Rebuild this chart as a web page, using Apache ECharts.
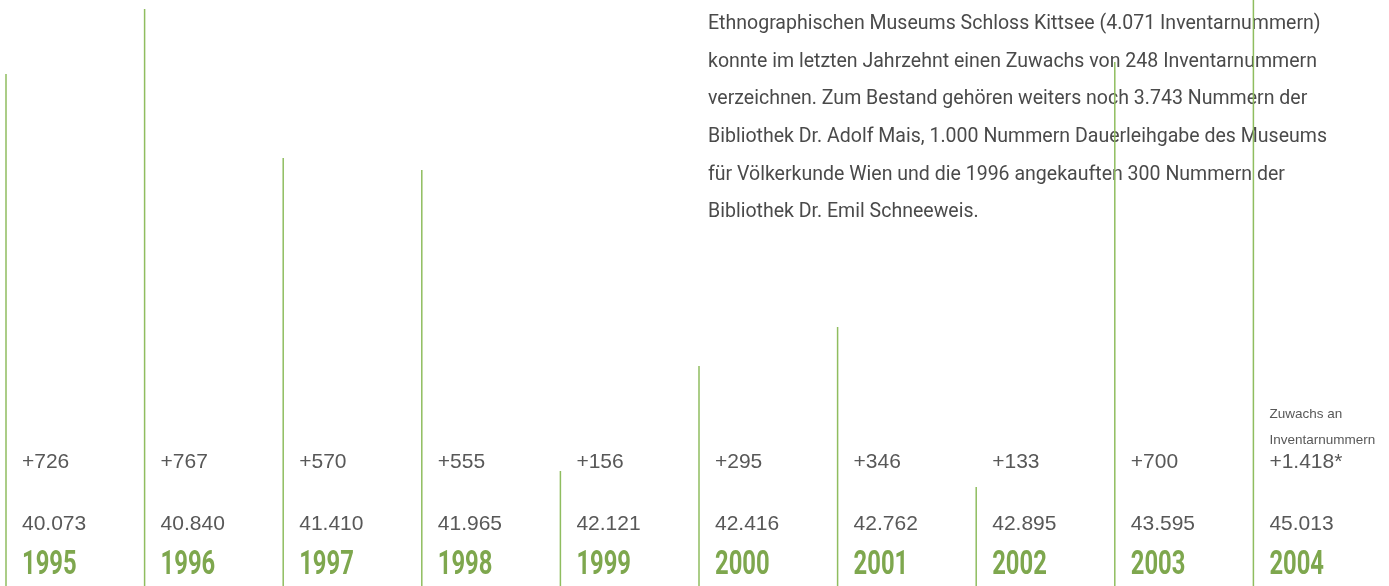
<!DOCTYPE html>
<html><head><meta charset="utf-8">
<script src="https://cdn.jsdelivr.net/npm/echarts@6/dist/echarts.min.js"></script>
<style>html,body{margin:0;padding:0;background:#fff}#c{width:1389px;height:586px}</style>
</head><body><div id="c"></div>
<script>
const years = ['1995','1996','1997','1998','1999','2000','2001','2002','2003','2004'];
const increments = ['+726','+767','+570','+555','+156','+295','+346','+133','+700','+1.418*'];
const totals = ['40.073','40.840','41.410','41.965','42.121','42.416','42.762','42.895','43.595','45.013'];
const stemHeights = [512,577,428,416,115,220,259,99,524,586];
const incrementNote = ['Zuwachs an','Inventarnummern'];
const paragraph = [
  'Ethnographischen Museums Schloss Kittsee (4.071 Inventarnummern)',
  'konnte im letzten Jahrzehnt einen Zuwachs von 248 Inventarnummern',
  'verzeichnen. Zum Bestand gehören weiters noch 3.743 Nummern der',
  'Bibliothek Dr. Adolf Mais, 1.000 Nummern Dauerleihgabe des Museums',
  'für Völkerkunde Wien und die 1996 angekauften 300 Nummern der',
  'Bibliothek Dr. Emil Schneeweis.'
];

const chart = echarts.init(document.getElementById('c'), null, {renderer:'canvas'});
const numFont = '21px "Liberation Sans", Arial, sans-serif';
const option = {
  animation:false,
  backgroundColor:'#ffffff',
  grid:{left:6, top:0, bottom:0, width:1247.4},
  xAxis:{type:'value', min:0, max:9, show:false},
  yAxis:{type:'value', min:0, max:586, show:false},
  graphic: paragraph.map((t,k)=>({
    type:'text', x:708, y:24 + k*37.6, z:1, scaleX:0.93,
    style:{text:t, font:'21px Roboto, sans-serif', fill:'#4a4a4a', verticalAlign:'middle'}
  })),
  series:[{
    type:'custom', z:5,
    data: stemHeights.map((h,i)=>[i,h]),
    renderItem(params, api){
      const i = api.value(0);
      const base = api.coord([i,0]);
      const top = api.coord([i,api.value(1)]);
      const tx = base[0] + 16;
      const ch = [
        {type:'line', shape:{x1:base[0],y1:base[1],x2:top[0],y2:top[1]}, style:{stroke:'#8fbd5f', lineWidth:1.5}},
        {type:'text', x:tx, y:base[1]-124, style:{text:increments[i], font:numFont, fill:'#585858', verticalAlign:'middle'}},
        {type:'text', x:tx, y:base[1]-62, style:{text:totals[i], font:numFont, fill:'#585858', verticalAlign:'middle'}},
        {type:'text', x:tx, y:base[1]-21, scaleX:0.7, style:{text:years[i], font:'bold 34px Roboto, sans-serif', fill:'#7ea74e', verticalAlign:'middle'}}
      ];
      if (i === years.length-1) {
        incrementNote.forEach((t,k)=>ch.push({type:'text', x:tx, y:base[1]-172+k*26, style:{text:t, font:'13.5px "Liberation Sans", Arial, sans-serif', fill:'#585858', verticalAlign:'middle'}}));
      }
      return {type:'group', children:ch};
    }
  }]
};
chart.setOption(option);
</script></body></html>
